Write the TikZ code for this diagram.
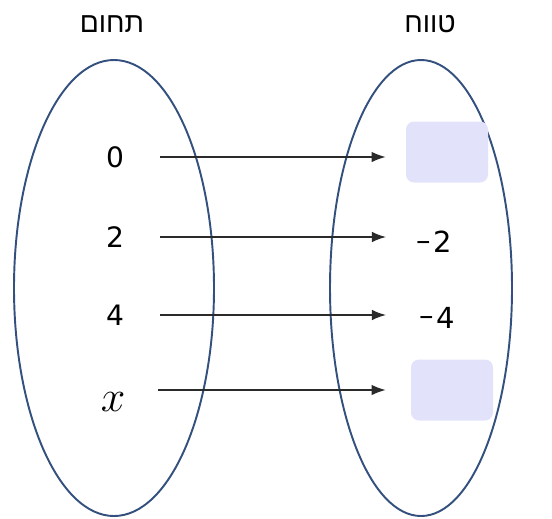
\documentclass[tikz,border=0pt]{standalone}
\usepackage{fontspec}
\usepackage{xcolor}
\setmainfont{DejaVu Sans}
\newfontfamily\hebfont[Script=Hebrew]{Liberation Sans}
\TeXXeTstate=1
\usetikzlibrary{arrows.meta,shapes.geometric}
\definecolor{setblue}{HTML}{34507E}
\definecolor{blankfill}{HTML}{E2E3FA}
\definecolor{arrowgray}{HTML}{2A2A2A}

\begin{document}
\begin{tikzpicture}[
        setoval/.style={ellipse, draw=setblue, line width=1.1pt, inner sep=0pt},
        settitle/.style={font=\hebfont\fontsize{16}{19}\selectfont, inner sep=0pt},
        lnum/.style={font=\fontsize{16}{19}\selectfont, inner sep=0pt, minimum width=1.4cm},
        rnum/.style={font=\fontsize{16.5}{19}\selectfont, inner sep=0pt, anchor=west},
        blank/.style={fill=blankfill, rounded corners=4.5pt, minimum width=1.64cm, minimum height=1.22cm, inner sep=0pt},
        maparrow/.style={draw=arrowgray, line width=0.8pt, -{Latex[length=8pt,width=6pt]}, shorten <=0.2cm}
    ]
        \useasboundingbox (0,0) rectangle (11.04,-10.36);

        \node[setoval, minimum width=4cm, minimum height=9.12cm] (dom) at (2.28,-5.76) {};
        \node[setoval, minimum width=3.64cm, minimum height=9.12cm] (ran) at (8.42,-5.76) {};

        \node[settitle] (domtitle) at (2.24,-0.48) {\beginR תחום\endR};
        \node[settitle] (rantitle) at (8.6,-0.48) {\beginR טווח\endR};

        \node[lnum] (d0) at (2.3,-3.14) {0};
        \node[lnum] (d1) at (2.3,-4.74) {2};
        \node[lnum] (d2) at (2.3,-6.3) {4};
        \node[lnum] (d3) at (2.26,-8.04) {\scalebox{1.45}{$x$}};

        \node[blank] (r0) at (8.94,-3.04) {};
        \node[rnum] (r1) at (8.32,-4.84) {\raisebox{1.5pt}{–}\kern1.5pt2};
        \node[rnum] (r2) at (8.38,-6.36) {\raisebox{1.5pt}{–}\kern1.5pt4};
        \node[blank] (r3) at (9.04,-7.8) {};

        \draw[maparrow, shorten >=0.4cm] (d0) -- (d0 -| r0.west);
        \draw[maparrow, shorten >=0.6cm] (d1) -- (d1 -| r1.west);
        \draw[maparrow, shorten >=0.66cm] (d2) -- (d2 -| r2.west);
        \draw[maparrow, shorten >=0.5cm] (d3.east |- r3) -- (r3.west);
    \end{tikzpicture}
\end{document}
